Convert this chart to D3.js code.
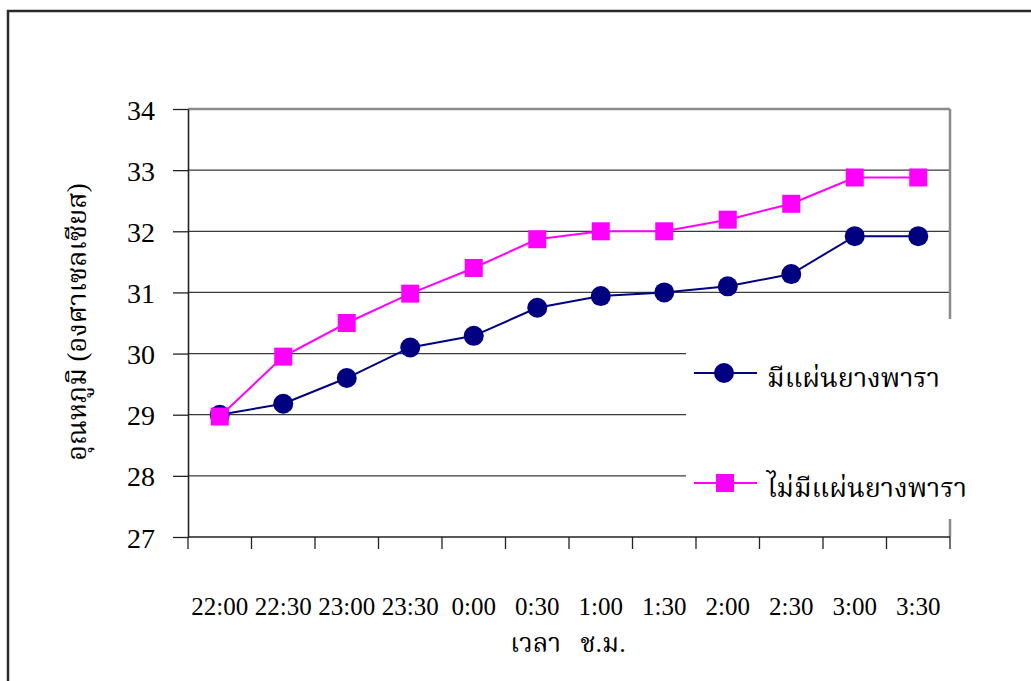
<!DOCTYPE html>
<html>
<head>
<meta charset="utf-8">
<script src="https://cdn.jsdelivr.net/npm/d3@7"></script>
<style>
  html, body { margin: 0; padding: 0; background: #fff; }
  svg { display: block; }
  text { font-family: "Liberation Serif", "Noto Serif Thai", "Noto Sans Thai", "DejaVu Serif", serif; fill: #000; }
</style>
</head>
<body>
<svg id="chart" width="1031" height="681"></svg>
<script>
// Time of measurement (every half hour)
const times = ["22:00", "22:30", "23:00", "23:30", "0:00", "0:30", "1:00", "1:30", "2:00", "2:30", "3:00", "3:30"];
// Temperature (°C) with rubber sheet
const withSheet = [29.0, 29.18, 29.6, 30.1, 30.29, 30.75, 30.94, 31.0, 31.1, 31.3, 31.92, 31.92];
// Temperature (°C) without rubber sheet
const withoutSheet = [28.97, 29.95, 30.5, 30.98, 31.4, 31.87, 32.0, 32.0, 32.19, 32.45, 32.88, 32.88];
const yTicks = [27, 28, 29, 30, 31, 32, 33, 34];
const seriesNames = ["มีแผ่นยางพารา", "ไม่มีแผ่นยางพารา"];
const yTitle = "อุณหภูมิ (องศาเซลเซียส)";
const xTitle = "เวลา   ช.ม.";

const svg = d3.select("#chart");
const plot = { left: 188, right: 950, top: 109, bottom: 537 };

const x = d3.scaleBand().domain(times).range([plot.left, plot.right]);
const y = d3.scaleLinear().domain([27, 34]).range([plot.bottom, plot.top]);

// outer frame (runs off the right and bottom edges)
svg.append("path")
  .attr("d", "M8,700 L8,11 L1040,11")
  .attr("fill", "none").attr("stroke", "#2a2a2a").attr("stroke-width", 2.5);

// horizontal gridlines
svg.append("g").selectAll("line").data(yTicks.slice(1)).join("line")
  .attr("x1", plot.left).attr("x2", plot.right)
  .attr("y1", d => y(d)).attr("y2", d => y(d))
  .attr("stroke", d => d === 34 ? "#8a8a8a" : "#3a3a3a")
  .attr("stroke-width", d => d === 34 ? 2.5 : 1.3);

// plot area right border
svg.append("line")
  .attr("x1", plot.right).attr("x2", plot.right)
  .attr("y1", plot.top).attr("y2", plot.bottom)
  .attr("stroke", "#8a8a8a").attr("stroke-width", 2.5);

// y axis
const yAxis = d3.axisLeft(y).tickValues(yTicks).tickFormat(d3.format("d"))
  .tickSize(15).tickSizeOuter(0).tickPadding(18);
const gy = svg.append("g").attr("transform", `translate(${plot.left},0)`).call(yAxis);
gy.select(".domain").attr("stroke", "#222").attr("stroke-width", 1.6);
gy.selectAll(".tick line").attr("stroke", "#222").attr("stroke-width", 1.3);
gy.selectAll(".tick text").attr("font-size", 28).attr("dy", "0.36em")
  .style("font-family", "'Liberation Serif', serif");

// x axis: ticks on category boundaries
const xEdges = times.map(t => x(t)).concat([plot.right]);
svg.append("line")
  .attr("x1", plot.left).attr("x2", plot.right)
  .attr("y1", plot.bottom).attr("y2", plot.bottom)
  .attr("stroke", "#222").attr("stroke-width", 1.6);
svg.append("g").selectAll("line").data(xEdges).join("line")
  .attr("x1", d => d).attr("x2", d => d)
  .attr("y1", plot.bottom).attr("y2", plot.bottom + 12)
  .attr("stroke", "#222").attr("stroke-width", 1.3);
svg.append("g").selectAll("text").data(times).join("text")
  .attr("x", d => x(d) + x.bandwidth() / 2)
  .attr("y", 615)
  .attr("text-anchor", "middle")
  .attr("font-size", 25)
  .style("font-family", "'Liberation Serif', serif")
  .text(d => d);

// axis titles
svg.append("text")
  .attr("transform", "translate(86,322) rotate(-90)")
  .attr("text-anchor", "middle")
  .attr("font-size", 27)
  .text(yTitle);
svg.append("text")
  .attr("x", 568).attr("y", 652)
  .attr("text-anchor", "middle")
  .attr("font-size", 26)
  .style("white-space", "pre")
  .text(xTitle);

// legend background hides the grid behind it
svg.append("rect")
  .attr("x", 686).attr("y", 319).attr("width", 330).attr("height", 200)
  .attr("fill", "#fff");

const cx = d => x(d) + x.bandwidth() / 2;
const line = d3.line().x((d, i) => cx(times[i])).y(d => y(d));

// series without rubber sheet
svg.append("path").datum(withoutSheet)
  .attr("d", line).attr("fill", "none")
  .attr("stroke", "#ff00ff").attr("stroke-width", 2);
// series with rubber sheet
svg.append("path").datum(withSheet)
  .attr("d", line).attr("fill", "none")
  .attr("stroke", "#000080").attr("stroke-width", 2);

svg.append("g").selectAll("circle").data(withSheet).join("circle")
  .attr("cx", (d, i) => cx(times[i])).attr("cy", d => y(d))
  .attr("r", 10).attr("fill", "#000080");
svg.append("g").selectAll("rect").data(withoutSheet).join("rect")
  .attr("x", (d, i) => cx(times[i]) - 9).attr("y", d => y(d) - 9)
  .attr("width", 18).attr("height", 18).attr("fill", "#ff00ff");

// legend
const legend = svg.append("g");
const legendRows = [
  { name: seriesNames[0], color: "#000080", shape: "circle", y: 373 },
  { name: seriesNames[1], color: "#ff00ff", shape: "square", y: 483 }
];
legendRows.forEach(r => {
  legend.append("line")
    .attr("x1", 694).attr("x2", 757).attr("y1", r.y).attr("y2", r.y)
    .attr("stroke", r.color).attr("stroke-width", 2);
  if (r.shape === "circle") {
    legend.append("circle").attr("cx", 724).attr("cy", r.y).attr("r", 10).attr("fill", r.color);
  } else {
    legend.append("rect").attr("x", 716).attr("y", r.y - 9).attr("width", 18).attr("height", 18).attr("fill", r.color);
  }
  legend.append("text")
    .attr("x", 767).attr("y", r.y + 14)
    .attr("font-size", 27)
    .text(r.name);
});
</script>
</body>
</html>
